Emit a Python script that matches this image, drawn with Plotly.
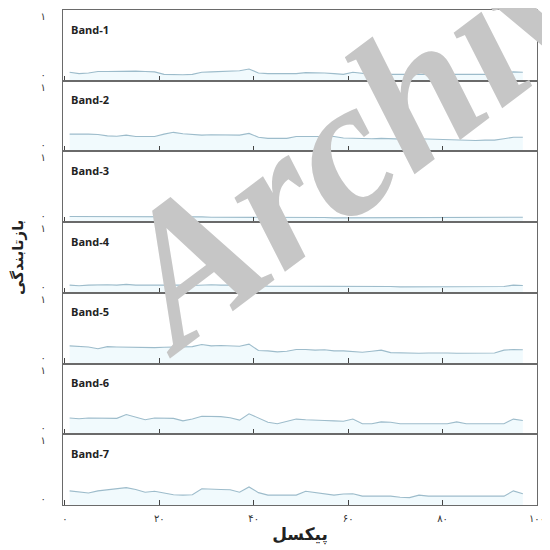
import plotly.graph_objects as go
from plotly.subplots import make_subplots

# ---------------- data ----------------
pixels = list(range(1, 98, 2))

band_names = ["Band-1", "Band-2", "Band-3", "Band-4", "Band-5", "Band-6", "Band-7"]

band1 = [0.12, 0.10, 0.11, 0.13, 0.13, 0.135, 0.14, 0.135, 0.13, 0.125,
         0.09, 0.085, 0.085, 0.09, 0.12, 0.125, 0.13, 0.125, 0.14, 0.165,
         0.11, 0.10, 0.10, 0.10, 0.10, 0.115, 0.115, 0.11, 0.10, 0.09,
         0.12, 0.10, 0.09, 0.09, 0.09, 0.085, 0.085, 0.085, 0.085, 0.09,
         0.095, 0.09, 0.09, 0.09, 0.09, 0.09, 0.11, 0.125, 0.12]

band2 = [0.245, 0.25, 0.245, 0.24, 0.22, 0.215, 0.23, 0.21, 0.205, 0.21,
         0.245, 0.27, 0.25, 0.235, 0.23, 0.235, 0.23, 0.225, 0.23, 0.255,
         0.20, 0.185, 0.19, 0.185, 0.21, 0.21, 0.205, 0.20, 0.21, 0.19,
         0.185, 0.19, 0.18, 0.185, 0.18, 0.175, 0.17, 0.18, 0.175, 0.17,
         0.165, 0.17, 0.16, 0.155, 0.16, 0.16, 0.18, 0.20, 0.20]

band3 = [0.08, 0.08, 0.085, 0.08, 0.08, 0.08, 0.085, 0.08, 0.08, 0.075,
         0.075, 0.08, 0.075, 0.075, 0.075, 0.07, 0.07, 0.07, 0.07, 0.075,
         0.065, 0.065, 0.065, 0.065, 0.065, 0.065, 0.065, 0.065, 0.06, 0.06,
         0.065, 0.06, 0.06, 0.06, 0.06, 0.06, 0.06, 0.06, 0.06, 0.06,
         0.06, 0.06, 0.06, 0.06, 0.06, 0.06, 0.06, 0.065, 0.07]

band4 = [0.11, 0.10, 0.11, 0.115, 0.115, 0.11, 0.12, 0.11, 0.105, 0.11,
         0.11, 0.115, 0.11, 0.105, 0.115, 0.115, 0.11, 0.11, 0.11, 0.125,
         0.10, 0.095, 0.095, 0.10, 0.10, 0.10, 0.10, 0.095, 0.095, 0.09,
         0.10, 0.09, 0.09, 0.09, 0.09, 0.085, 0.085, 0.09, 0.09, 0.09,
         0.09, 0.09, 0.09, 0.09, 0.09, 0.09, 0.09, 0.11, 0.105]

band5 = [0.25, 0.245, 0.235, 0.21, 0.24, 0.235, 0.23, 0.225, 0.225, 0.225,
         0.23, 0.235, 0.235, 0.24, 0.27, 0.25, 0.255, 0.245, 0.245, 0.275,
         0.185, 0.18, 0.165, 0.175, 0.20, 0.20, 0.19, 0.195, 0.18, 0.18,
         0.17, 0.16, 0.175, 0.19, 0.155, 0.15, 0.145, 0.145, 0.15, 0.155,
         0.15, 0.145, 0.145, 0.145, 0.145, 0.15, 0.19, 0.20, 0.195]

band6 = [0.23, 0.22, 0.23, 0.23, 0.23, 0.225, 0.28, 0.24, 0.205, 0.23,
         0.23, 0.225, 0.19, 0.215, 0.255, 0.255, 0.25, 0.235, 0.20, 0.29,
         0.23, 0.17, 0.15, 0.185, 0.215, 0.205, 0.195, 0.195, 0.19, 0.185,
         0.215, 0.15, 0.15, 0.175, 0.17, 0.15, 0.15, 0.15, 0.15, 0.15,
         0.15, 0.175, 0.15, 0.15, 0.15, 0.15, 0.15, 0.215, 0.195]

band7 = [0.20, 0.18, 0.17, 0.20, 0.215, 0.22, 0.245, 0.22, 0.18, 0.195,
         0.17, 0.145, 0.14, 0.145, 0.23, 0.22, 0.22, 0.215, 0.18, 0.255,
         0.175, 0.14, 0.14, 0.14, 0.14, 0.195, 0.18, 0.165, 0.14, 0.155,
         0.16, 0.125, 0.125, 0.125, 0.125, 0.11, 0.105, 0.14, 0.125, 0.125,
         0.125, 0.125, 0.125, 0.125, 0.125, 0.125, 0.125, 0.20, 0.16]

bands = [band1, band2, band3, band4, band5, band6, band7]

x_tickvals = [0, 20, 40, 60, 80, 100]
x_ticktext = ["۰", "۲۰", "۴۰", "۶۰", "۸۰", "۱۰۰"]
y_tickvals = [0, 1]
y_ticktext = ["۰<br>\u00a0", "\u00a0<br>۱"]

x_title = "پیکسل"
y_title = "بازتابندگی"
watermark = "Archive"

# ---------------- figure ----------------
n = len(bands)
fig = make_subplots(rows=n, cols=1, shared_xaxes=True, vertical_spacing=0)

line_color = "#9dbccb"
frame_color = "#6a6a6a"
persian_font = "DejaVu Sans"

for i, (name, vals) in enumerate(zip(band_names, bands)):
    r = i + 1
    fig.add_trace(
        go.Scatter(
            x=pixels, y=vals, mode="lines",
            line=dict(color=line_color, width=1.1),
            fill="tozeroy", fillcolor="rgba(214,240,248,0.35)",
            showlegend=False, hoverinfo="skip",
        ),
        row=r, col=1,
    )
    suffix = "" if r == 1 else str(r)
    fig.add_annotation(
        text=f"<b>{name}</b>",
        xref=f"x{suffix} domain", yref=f"y{suffix} domain",
        x=0.013, y=1 - 19 / 70.7, xanchor="left", yanchor="middle",
        showarrow=False,
        font=dict(family="Open Sans", size=11, color="#222222"),
    )

fig.update_xaxes(
    range=[-0.4, 100], automargin=False,
    tickvals=x_tickvals, ticktext=x_ticktext,
    ticks="inside", ticklen=5, tickwidth=1.3, tickcolor="#444444",
    showline=True, linecolor=frame_color, linewidth=1.3, mirror=True,
    showgrid=False, zeroline=False,
    tickfont=dict(family=persian_font, size=10, color="#333333"),
)
fig.update_xaxes(
    title=dict(text=f"<b>{x_title}</b>", standoff=4,
               font=dict(family=persian_font, size=17, color="#222222")),
    ticklabelstandoff=4,
    row=n, col=1,
)

fig.update_yaxes(
    range=[0, 1], automargin=False,
    tickvals=y_tickvals, ticktext=y_ticktext,
    ticks="", showline=True, linecolor=frame_color, linewidth=1.3, mirror=True,
    showgrid=False, zeroline=False,
    ticklabelstandoff=14, ticklabeloverflow="allow",
    tickfont=dict(family=persian_font, size=10, color="#333333"),
)

# overall y title
fig.add_annotation(
    text=f"<b>{y_title}</b>", textangle=-90,
    xref="paper", yref="paper", x=-0.096, y=0.5,
    xanchor="center", yanchor="middle", showarrow=False,
    font=dict(family=persian_font, size=15, color="#222222"),
)

# watermark
fig.add_annotation(
    text=watermark, textangle=-37,
    xref="paper", yref="paper", x=0.679, y=0.790,
    xanchor="center", yanchor="middle", showarrow=False,
    font=dict(family="Liberation Serif", size=195, color="#c6c6c6",
              weight="bold", style="italic"),
)

fig.update_layout(
    width=550, height=550,
    margin=dict(l=55, r=21, t=2, b=53),
    plot_bgcolor="white", paper_bgcolor="white",
    showlegend=False,
)

fig.write_html("out.html")
